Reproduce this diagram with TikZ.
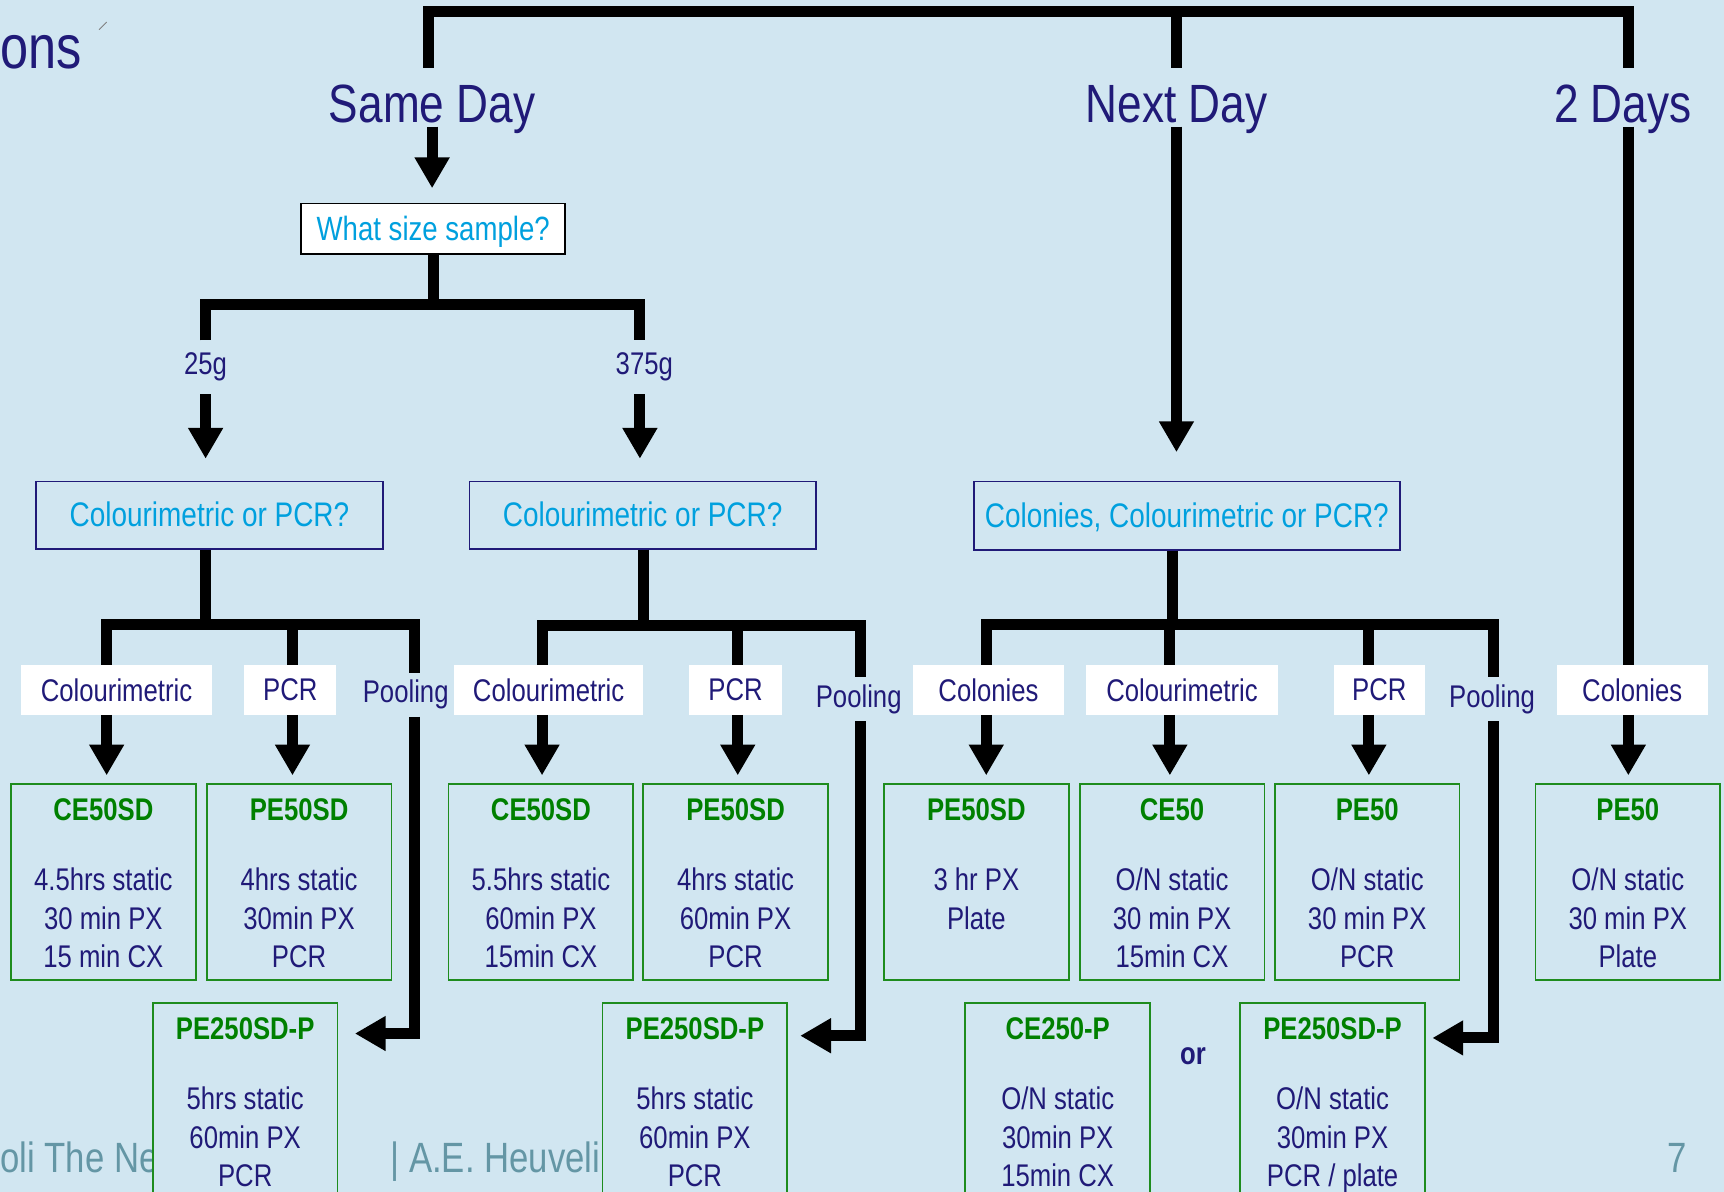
\documentclass[tikz,border=0pt]{standalone}
\usepackage{fontspec}
\setmainfont{Liberation Sans}[FakeStretch=0.82]
\usetikzlibrary{arrows.meta}
\definecolor{bgc}{RGB}{209,230,241}
\definecolor{navy}{RGB}{32,26,120}
\definecolor{cyanc}{RGB}{0,160,222}
\definecolor{greent}{RGB}{0,128,0}
\definecolor{greenb}{RGB}{30,140,30}
\definecolor{foot}{RGB}{100,150,165}
\newcommand{\fsz}[1]{\fontsize{#1}{#1}\selectfont}
\newcommand{\ttl}[1]{\textcolor{greent}{\bfseries #1}}
\begin{document}
\begin{tikzpicture}[x=1pt,y=-1pt,line join=miter,
  conn/.style={line width=10pt},
  arr/.style={conn,-{Triangle[length=28pt,width=30pt]}},
  hdr/.style={text=navy,font=\fsz{49},inner xsep=2pt,inner ysep=4pt,text height=45pt,text depth=0pt},
  qbox/.style={draw=navy,line width=1.6pt,text=cyanc,font=\fsz{31},inner sep=0pt,minimum height=61pt,text height=24pt,text depth=3pt},
  lab/.style={fill=white,text=navy,font=\fsz{28.5},minimum height=45pt,inner sep=0pt},
  pool/.style={text=navy,font=\fsz{28.5},inner xsep=2pt,inner ysep=6.5pt},
  szl/.style={text=navy,font=\fsz{28.5},inner xsep=2pt,inner ysep=11.3pt},
  res/.style={draw=greenb,fill=bgc,line width=1.6pt,minimum width=168pt,minimum height=178pt,inner sep=0pt},
  rtext/.style={text=navy,align=center,font=\fontsize{28.5}{35}\selectfont,inner sep=0pt,anchor=north},
  foottext/.style={text=foot,font=\fsz{38.5},inner sep=0pt,anchor=base west}]
\useasboundingbox (0,0) rectangle (1568,1084);
\fill[bgc] (0,0) rectangle (1568,1084);
\clip (0,0) rectangle (1568,1084);

% page decorations
\node[text=navy,font=\fsz{56},inner sep=0pt,anchor=base west] (ons) at (0,62) {ons};
\coordinate (tk1) at (90,27);
\coordinate (tk2) at (97,20);
\draw[gray,line width=0.8pt] (tk1) -- (tk2);
\node[foottext] (f1) at (0,1066) {oli The Ne};
\node[foottext] (f2) at (355,1066) {| A.E. Heuveli};
\node[foottext] (f3) at (1516,1066) {7};

% headers
\node[hdr] (sd) at (393,88.5) {Same Day};
\node[hdr] (nd) at (1070,88.5) {Next Day};
\node[hdr] (td) at (1476,88.5) {2 Days};

% questions
\node[draw=black,fill=white,line width=1.6pt,text=cyanc,font=\fsz{30.6},minimum width=240pt,minimum height=46pt,inner sep=0pt,text height=24pt,text depth=3pt] (qs) at (394,208) {What size sample?};
\node[szl] (s25) at (187,334) {25g};
\node[szl] (s375) at (586,334) {375g};
\node[qbox,minimum width=315pt] (q1) at (190.5,468.5) {Colourimetric or PCR?};
\node[qbox,minimum width=315pt] (q2) at (584.5,468.5) {Colourimetric or PCR?};
\node[qbox,minimum width=387pt,minimum height=62pt] (q3) at (1079.5,469) {Colonies, Colourimetric or PCR?};

% labels
\node[lab,minimum width=174pt] (l1) at (106,627.5) {Colourimetric};
\node[lab,minimum width=84pt] (l2) at (264,627.5) {PCR};
\node[pool] (pl1) at (369,632) {Pooling};
\node[lab,minimum width=172pt] (l3) at (499,627.5) {Colourimetric};
\node[lab,minimum width=84pt] (l4) at (669,627.5) {PCR};
\node[pool] (pl2) at (781,636) {Pooling};
\node[lab,minimum width=138pt] (l5) at (899,627.5) {Colonies};
\node[lab,minimum width=174pt] (l6) at (1075,627.5) {Colourimetric};
\node[lab,minimum width=83pt] (l7) at (1254.5,627.5) {PCR};
\node[pool] (pl3) at (1357,636) {Pooling};
\node[lab,minimum width=137pt] (l8) at (1484.5,627.5) {Colonies};

% result boxes
\node[res] (r1) at (94,802) {};
\node[res] (r2) at (272,802) {};
\node[res] (r3) at (492,802) {};
\node[res] (r4) at (669,802) {};
\node[res] (r5) at (888,802) {};
\node[res] (r6) at (1066,802) {};
\node[res] (r7) at (1243.5,802) {};
\node[res] (r8) at (1480.5,802) {};
\node[res] (p1) at (223,1001) {};
\node[res] (p2) at (632,1001) {};
\node[res] (p3) at (962,1001) {};
\node[res] (p4) at (1212,1001) {};

\node[rtext] (r1t) at ([yshift=-14pt]r1.north) {\ttl{CE50SD}\\[29pt]4.5hrs static\\30 min PX\\15 min CX};
\node[rtext] (r2t) at ([yshift=-14pt]r2.north) {\ttl{PE50SD}\\[29pt]4hrs static\\30min PX\\PCR};
\node[rtext] (r3t) at ([yshift=-14pt]r3.north) {\ttl{CE50SD}\\[29pt]5.5hrs static\\60min PX\\15min CX};
\node[rtext] (r4t) at ([yshift=-14pt]r4.north) {\ttl{PE50SD}\\[29pt]4hrs static\\60min PX\\PCR};
\node[rtext] (r5t) at ([yshift=-14pt]r5.north) {\ttl{PE50SD}\\[29pt]3 hr PX\\Plate};
\node[rtext] (r6t) at ([yshift=-14pt]r6.north) {\ttl{CE50}\\[29pt]O/N static\\30 min PX\\15min CX};
\node[rtext] (r7t) at ([yshift=-14pt]r7.north) {\ttl{PE50}\\[29pt]O/N static\\30 min PX\\PCR};
\node[rtext] (r8t) at ([yshift=-14pt]r8.north) {\ttl{PE50}\\[29pt]O/N static\\30 min PX\\Plate};
\node[rtext] (p1t) at ([yshift=-14pt]p1.north) {\ttl{PE250SD-P}\\[29pt]5hrs static\\60min PX\\PCR};
\node[rtext] (p2t) at ([yshift=-14pt]p2.north) {\ttl{PE250SD-P}\\[29pt]5hrs static\\60min PX\\PCR};
\node[rtext] (p3t) at ([yshift=-14pt]p3.north) {\ttl{CE250-P}\\[29pt]O/N static\\30min PX\\15min CX};
\node[rtext] (p4t) at ([yshift=-14pt]p4.north) {\ttl{PE250SD-P}\\[29pt]O/N static\\30min PX\\PCR / plate};
\node[text=navy,font=\bfseries\fsz{28.5},inner sep=0pt] (or) at (1085,961) {or};

% top bar
\coordinate (tA) at (390,10.5);
\coordinate (tB) at (1070,10.5);
\coordinate (tC) at (1481,10.5);
\draw[conn] (tA |- sd.north) -- (tA) -- (tC) -- (tC |- td.north);
\draw[conn] (tB) -- (tB |- nd.north);
\draw[arr,shorten >=13pt] (sd.south) -- (sd.south |- qs.north);
\draw[arr,shorten >=26pt] (tB |- nd.south) -- (tB |- q3.north);
\draw[conn] (tC |- td.south) -- (tC |- l8.north);
\draw[arr,shorten >=7pt] (tC |- l8.south) -- (tC |- r8.north);

% sample size
\coordinate (b0) at (394,277);
\coordinate (b0L) at (187,277);
\coordinate (b0R) at (582,277);
\draw[conn] (qs.south) -- (b0);
\draw[conn] (b0L |- s25.north) -- (b0L) -- (b0R) -- (b0R |- s375.north);
\draw[arr,shorten >=20pt] (b0L |- s25.south) -- (b0L |- q1.north);
\draw[arr,shorten >=20pt] (b0R |- s375.south) -- (b0R |- q2.north);

% group 1
\coordinate (g1s) at (187,568);
\coordinate (g1a) at (97,568);
\coordinate (g1b) at (266,568);
\coordinate (g1c) at (377,568);
\coordinate (k1) at (377,940);
\draw[conn] (g1s |- q1.south) -- (g1s);
\draw[conn] (g1a |- l1.north) -- (g1a) -- (g1c) -- (g1c |- pl1.north);
\draw[conn] (g1b) -- (g1b |- l2.north);
\draw[arr,shorten >=7pt] (g1a |- l1.south) -- (g1a |- r1.north);
\draw[arr,shorten >=7pt] (g1b |- l2.south) -- (g1b |- r2.north);
\draw[arr,shorten >=15pt] (g1c |- pl1.south) -- (k1) -- (k1 -| p1.east);

% group 2
\coordinate (g2s) at (585,569);
\coordinate (g2a) at (493,569);
\coordinate (g2b) at (671,569);
\coordinate (g2c) at (783,569);
\coordinate (k2) at (783,942);
\draw[conn] (g2s |- q2.south) -- (g2s);
\draw[conn] (g2a |- l3.north) -- (g2a) -- (g2c) -- (g2c |- pl2.north);
\draw[conn] (g2b) -- (g2b |- l4.north);
\draw[arr,shorten >=7pt] (g2a |- l3.south) -- (g2a |- r3.north);
\draw[arr,shorten >=7pt] (g2b |- l4.south) -- (g2b |- r4.north);
\draw[arr,shorten >=11pt] (g2c |- pl2.south) -- (k2) -- (k2 -| p2.east);

% group 3
\coordinate (g3s) at (1066,568);
\coordinate (g3a) at (897,568);
\coordinate (g3b) at (1064,568);
\coordinate (g3c) at (1245,568);
\coordinate (g3d) at (1358,568);
\coordinate (k3) at (1358,944);
\draw[conn] (g3s |- q3.south) -- (g3s);
\draw[conn] (g3a |- l5.north) -- (g3a) -- (g3d) -- (g3d |- pl3.north);
\draw[conn] (g3b) -- (g3b |- l6.north);
\draw[conn] (g3c) -- (g3c |- l7.north);
\draw[arr,shorten >=7pt] (g3a |- l5.south) -- (g3a |- r5.north);
\draw[arr,shorten >=7pt] (g3b |- l6.south) -- (g3b |- r6.north);
\draw[arr,shorten >=7pt] (g3c |- l7.south) -- (g3c |- r7.north);
\draw[arr,shorten >=6pt] (g3d |- pl3.south) -- (k3) -- (k3 -| p4.east);
\end{tikzpicture}
\end{document}
